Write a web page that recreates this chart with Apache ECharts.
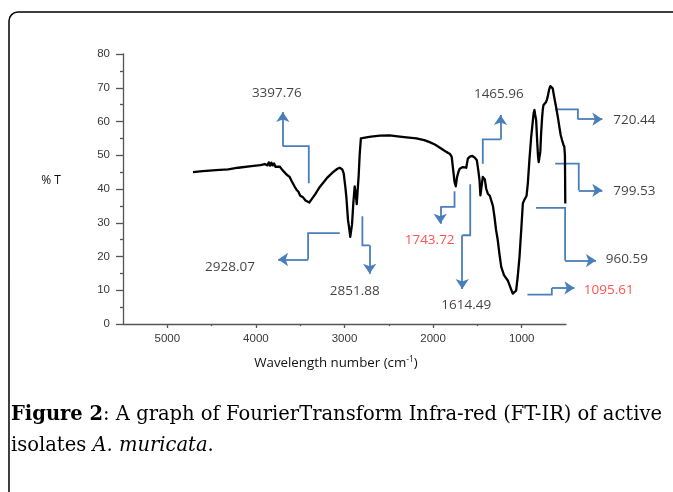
<!DOCTYPE html>
<html>
<head>
<meta charset="utf-8">
<script src="https://cdn.jsdelivr.net/npm/echarts@6/dist/echarts.min.js"></script>
<style>
html,body{margin:0;padding:0;background:#fff;}
#c{width:673px;height:492px;}
</style>
</head>
<body>
<div id="c"></div>
<script>
// Spectrum: wavenumber (cm-1) and % transmittance
const wavenumbers = [4710,4600,4450,4313,4200,4050,3950,3900,3870,3855,3840,3825,3810,3795,3780,3760,3730,3700,3680,3654,3620,3600,3580,3560,3542,3520,3500,3470,3440,3418,3398,3370,3330,3279,3200,3129,3080,3054,3025,3009,2990,2979,2960,2945,2935,2928,2915,2900,2885,2875,2862,2852,2840,2828,2815,2800,2753,2700,2600,2490,2400,2300,2189,2100,2039,1980,1927,1880,1851,1810,1790,1775,1758,1744,1730,1715,1700,1682,1664,1645,1626,1608,1585,1558,1530,1506,1490,1476,1466,1452,1439,1428,1416,1400,1382,1360,1344,1325,1307,1290,1270,1250,1231,1200,1157,1130,1101,1085,1063,1045,1025,1005,987,975,960,945,931,912,893,875,865,856,848,837,825,815,808,800,790,781,770,762,755,740,725,715,707,690,677,665,650,635,612,590,575,560,545,530,519,512,508];
const transmittance = [45.0,45.3,45.6,45.8,46.3,46.8,47.1,47.4,47.0,47.9,46.9,47.8,47.0,47.6,46.6,47.0,46.6,45.6,45.9,44.3,43.6,42.5,42.0,40.6,39.8,39.2,38.0,37.6,36.6,36.2,36.0,37.0,38.5,40.6,43.2,45.0,46.0,46.3,45.8,44.6,40.5,37.6,30.7,28.0,25.8,25.5,29.5,36.0,40.8,39.0,35.5,35.0,44.0,50.5,55.0,55.5,55.3,55.5,55.8,55.9,55.6,55.3,55.0,54.5,53.9,53.2,52.3,51.5,51.0,50.4,49.5,46.0,42.1,40.8,43.5,45.0,46.0,46.3,46.5,46.0,46.3,49.0,49.6,49.8,49.3,48.5,45.5,42.6,38.1,41.0,43.6,43.8,42.8,40.0,38.6,38.0,37.6,35.0,31.7,28.0,24.8,20.5,16.9,14.5,12.9,11.0,9.0,9.0,9.9,14.0,19.8,28.0,35.7,36.5,36.6,38.0,41.6,49.0,55.4,60.0,62.5,63.4,62.0,60.4,54.0,49.5,48.0,47.5,51.0,56.4,61.0,63.5,64.8,65.3,65.8,66.5,67.3,69.5,70.5,70.6,69.8,67.5,64.3,61.0,58.4,56.0,54.5,53.2,52.5,50.0,35.7];

// Axis ticks
const xMajorTicks = [1000,2000,3000,4000,5000];
const xMinorTicks = [1500,2500,3500,4500];

// Peak annotations: label, colour flag, label position [wavenumber, %T], leader polyline in data coords
const peakLabels = ['3397.76','2928.07','2851.88','1743.72','1614.49','1465.96','720.44','799.53','960.59','1095.61'];
const peakRed = [false,false,false,true,false,false,false,false,false,true];
const peakLabelPos = [[3764,68.4],[4293,16.9],[2885,9.7],[2039,24.8],[1626,5.5],[1258,68.1],[-271,60.4],[-271,39.3],[-186,19.1],[18,9.9]];
const peakLeaders = [
  [[3403,41.7],[3403,52.7],[3696,52.7],[3696,62.8]],
  [[3054,26.9],[3411,26.9],[3411,19.1],[3749,19.1]],
  [[2798,31.9],[2798,23.3],[2716,23.3],[2716,14.9]],
  [[1758,39.3],[1758,34.7],[1919,34.7],[1919,29.7]],
  [[1581,41.4],[1581,26.3],[1671,26.3],[1671,10.4]],
  [[1439,47.5],[1439,54.7],[1239,54.7],[1239,61.9]],
  [[622,63.6],[366,63.6],[366,60.7],[90,60.7]],
  [[622,47.5],[356,47.5],[356,39.6],[90,39.6]],
  [[839,34.4],[510,34.4],[510,18.8],[162,18.8]],
  [[935,8.7],[660,8.7],[660,10.7],[405,10.7]]
];

const chart = echarts.init(document.getElementById('c'), null, {renderer:'canvas'});
const axisColor = '#555';
const labelColor = '#383838';
const blue = '#4a7ebb';

const option = {
  animation: false,
  backgroundColor: '#fff',
  grid: {left:123, right:107, top:54, bottom:168, containLabel:false},
  xAxis: [{
    type:'value', inverse:true, min:500, max:5500, interval:500,
    axisLine:{show:true, onZero:false, lineStyle:{color:axisColor, width:1.3}},
    axisTick:{show:true, inside:false, length:4, lineStyle:{color:axisColor, width:1.3}, customValues: xMajorTicks},
    axisLabel:{show:true, color:labelColor, fontFamily:'Liberation Sans', fontSize:11.5, margin:9, customValues: xMajorTicks, formatter: v => String(v)},
    splitLine:{show:false}
  },{
    type:'value', inverse:true, min:500, max:5500, interval:500, position:'bottom',
    axisLine:{show:false},
    axisTick:{show:true, length:2, lineStyle:{color:axisColor, width:1.3}, customValues: xMinorTicks},
    axisLabel:{show:false},
    splitLine:{show:false}
  }],
  yAxis: {
    type:'value', min:0, max:80, interval:10,
    axisLine:{show:true, lineStyle:{color:axisColor, width:1.3}},
    axisTick:{show:true, length:7, lineStyle:{color:axisColor, width:1.3}},
    minorTick:{show:true, splitNumber:2, length:3, lineStyle:{color:axisColor, width:1.3}},
    axisLabel:{color:labelColor, fontFamily:'Liberation Sans', fontSize:11.5, margin:13},
    splitLine:{show:false}
  },
  series: [
    {
      type:'line', name:'FT-IR',
      data: wavenumbers.map((w,i)=>[w, transmittance[i]]),
      showSymbol:false, symbol:'none',
      lineStyle:{color:'#000', width:2.3, join:'round'},
      z:5
    },
    {
      type:'lines', coordinateSystem:'cartesian2d', polyline:true, clip:false,
      lineStyle:{color:blue, width:1.8, opacity:1},
      data: peakLeaders.map(c=>({coords:c.slice(0,3)})),
      z:4
    },
    {
      type:'lines', coordinateSystem:'cartesian2d', clip:false,
      symbol:['none','arrow'], symbolSize:10,
      lineStyle:{color:blue, width:1.8, opacity:1, curveness:0},
      data: peakLeaders.map(c=>({coords:c.slice(2,4)})),
      z:4
    },
    {
      type:'scatter', clip:false, symbolSize:0,
      data: peakLabels.map((t,i)=>({
        value:[peakLabelPos[i][0], peakLabelPos[i][1]], name:t,
        label:{color: peakRed[i] ? '#ff2626' : '#111'}
      })),
      label:{show:true, position:'inside', formatter:'{b}', fontFamily:'Open Sans', fontSize:13.5},
      z:6
    }
  ],
  graphic: [
    {type:'rect', shape:{x:9, y:12, width:720, height:540, r:9}, style:{fill:'none', stroke:'#000', lineWidth:1.5}, silent:true},
    {type:'text', x:51, y:181, style:{text:'% T', font:'12px "Open Sans"', fill:'#111', textAlign:'center', textVerticalAlign:'middle'}},
    {type:'text', x:336, y:363, style:{
      text:'Wavelength number (cm{s|-1})', font:'13.3px "Open Sans"', fill:'#111', textAlign:'center', textVerticalAlign:'middle',
      rich:{s:{fontSize:8.5, fontFamily:'Open Sans', fill:'#111', padding:[0,0,6,0]}}
    }},
    {type:'text', x:11, y:415, style:{
      text:'{b|Figure 2}{n|: A graph of FourierTransform Infra-red (FT-IR) of active}',
      textVerticalAlign:'middle', rich:{
        b:{fontFamily:'DejaVu Serif', fontWeight:'bold', fontSize:19.5, fill:'#000'},
        n:{fontFamily:'DejaVu Serif', fontSize:19.5, fill:'#000'}
      }
    }},
    {type:'text', x:11, y:446, style:{
      text:'{n|isolates }{i|A. muricata}{n|.}',
      textVerticalAlign:'middle', rich:{
        i:{fontFamily:'DejaVu Serif', fontStyle:'italic', fontSize:19.5, fill:'#000'},
        n:{fontFamily:'DejaVu Serif', fontSize:19.5, fill:'#000'}
      }
    }}
  ]
};
chart.setOption(option);
</script>
</body>
</html>
